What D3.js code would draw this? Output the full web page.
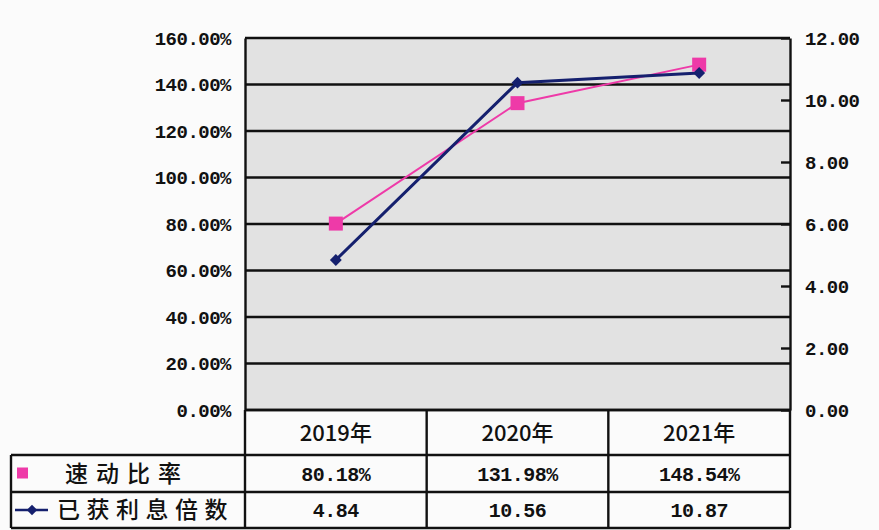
<!DOCTYPE html>
<html><head><meta charset="utf-8">
<script src="https://cdn.jsdelivr.net/npm/d3@7"></script>
<style>
html,body{margin:0;padding:0;background:#fbfbfb;}
text{font-family:"Liberation Mono","DejaVu Sans Mono","Noto Sans CJK SC",monospace;font-weight:bold;fill:#111;}
.cjk{font-family:"Noto Sans CJK SC",sans-serif;}
</style></head>
<body><svg id="c" width="879" height="530"></svg>
<script>
const categories = ["2019年","2020年","2021年"];
const seriesNames = ["速动比率","已获利息倍数"];
const quickRatio = [80.18,131.98,148.54];
const interestCover = [4.84,10.56,10.87];
const quickLabels = ["80.18%","131.98%","148.54%"];
const coverLabels = ["4.84","10.56","10.87"];
const leftTicks = [0,20,40,60,80,100,120,140,160];
const rightTicks = [0,2,4,6,8,10,12];

const svg = d3.select("#c");
const L=245,R=790,T=38,B=410;
const x = d3.scaleBand().domain(categories).range([L,R]);
const yL = d3.scaleLinear().domain([0,160]).range([B,T]);
const yR = d3.scaleLinear().domain([0,12]).range([B,T]);

svg.append("rect").attr("x",L).attr("y",T).attr("width",R-L).attr("height",B-T).attr("fill","#e2e2e2");
svg.append("g").selectAll("line").data(leftTicks).join("line")
  .attr("x1",L).attr("x2",R).attr("y1",d=>yL(d)).attr("y2",d=>yL(d))
  .attr("stroke","#111").attr("stroke-width",2.4);
const gl = svg.append("g").attr("transform",`translate(${L},0)`)
  .call(d3.axisLeft(yL).tickValues(leftTicks).tickSize(0).tickPadding(14).tickFormat(d=>d3.format(".2f")(d)+"%"));
gl.select(".domain").attr("stroke","#111").attr("stroke-width",2.4);
gl.selectAll("text").attr("font-size",19).attr("letter-spacing",-0.5).style("font-family","'Liberation Mono',monospace").style("font-weight","bold");
const gr = svg.append("g").attr("transform",`translate(${R},0)`)
  .call(d3.axisRight(yR).tickValues(rightTicks).tickSizeInner(-9).tickSizeOuter(0).tickPadding(15).tickFormat(d3.format(".2f")));
gr.select(".domain").attr("stroke","#111").attr("stroke-width",2.4);
gr.selectAll(".tick line").attr("stroke","#111").attr("stroke-width",2.4);
gr.selectAll("text").attr("font-size",19).attr("letter-spacing",-0.5).style("font-family","'Liberation Mono',monospace").style("font-weight","bold");

const cx = d=>x(d)+x.bandwidth()/2;
const pink="#ee3aa8", navy="#15206e";
svg.append("path").datum(quickRatio)
  .attr("d",d3.line().x((d,i)=>cx(categories[i])).y(d=>yL(d)))
  .attr("fill","none").attr("stroke",pink).attr("stroke-width",2);
svg.append("path").datum(interestCover)
  .attr("d",d3.line().x((d,i)=>cx(categories[i])).y(d=>yR(d)))
  .attr("fill","none").attr("stroke",navy).attr("stroke-width",3);
svg.append("g").selectAll("rect").data(quickRatio).join("rect")
  .attr("x",(d,i)=>cx(categories[i])-7).attr("y",d=>yL(d)-7).attr("width",14).attr("height",14).attr("fill",pink);
svg.append("g").selectAll("path").data(interestCover).join("path")
  .attr("d",d3.symbol(d3.symbolDiamond2,90))
  .attr("transform",(d,i)=>`translate(${cx(categories[i])},${yR(d)})`).attr("fill",navy);

const rows=[B,455,492,528];
const tbl = svg.append("g").attr("stroke","#111").attr("stroke-width",2.4);
tbl.append("line").attr("x1",L).attr("x2",R).attr("y1",rows[0]).attr("y2",rows[0]);
[1,2,3].forEach(k=>tbl.append("line").attr("x1",11).attr("x2",R).attr("y1",rows[k]).attr("y2",rows[k]));
tbl.append("line").attr("x1",11).attr("x2",11).attr("y1",rows[1]).attr("y2",rows[3]);
[L,...categories.slice(1).map(c=>x(c)),R].forEach(xx=>tbl.append("line").attr("x1",xx).attr("x2",xx).attr("y1",rows[0]).attr("y2",rows[3]));

svg.append("g").selectAll("text").data(categories).join("text")
  .attr("x",d=>cx(d)).attr("y",(rows[0]+rows[1])/2+8).attr("text-anchor","middle")
  .attr("font-size",22).attr("class","cjk").style("font-weight","500").text(d=>d);
svg.append("g").selectAll("text").data(quickLabels).join("text")
  .attr("x",(d,i)=>cx(categories[i])).attr("y",(rows[1]+rows[2])/2+7).attr("text-anchor","middle")
  .attr("font-size",20).attr("letter-spacing",-0.5).text(d=>d);
svg.append("g").selectAll("text").data(coverLabels).join("text")
  .attr("x",(d,i)=>cx(categories[i])).attr("y",(rows[2]+rows[3])/2+7).attr("text-anchor","middle")
  .attr("font-size",20).attr("letter-spacing",-0.5).text(d=>d);
svg.append("rect").attr("x",17).attr("y",(rows[1]+rows[2])/2-6).attr("width",11).attr("height",11).attr("fill",pink);
svg.append("line").attr("x1",15).attr("x2",48).attr("y1",(rows[2]+rows[3])/2).attr("y2",(rows[2]+rows[3])/2).attr("stroke",navy).attr("stroke-width",2.5);
svg.append("path").attr("d",d3.symbol(d3.symbolDiamond2,70)).attr("transform",`translate(32,${(rows[2]+rows[3])/2})`).attr("fill",navy);
svg.append("text").attr("class","cjk").attr("x",65).attr("y",(rows[1]+rows[2])/2+8).attr("font-size",23).attr("letter-spacing",8).style("font-weight","500").text(seriesNames[0]);
svg.append("text").attr("class","cjk").attr("x",57).attr("y",(rows[2]+rows[3])/2+8).attr("font-size",23).attr("letter-spacing",6.5).style("font-weight","500").text(seriesNames[1]);
</script></body></html>
